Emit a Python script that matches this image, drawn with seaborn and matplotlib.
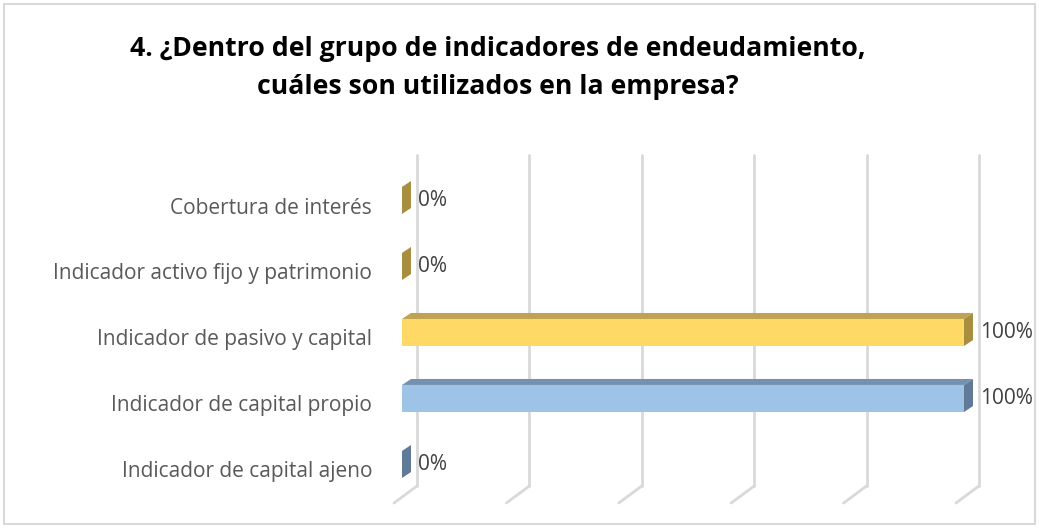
import matplotlib
matplotlib.use("Agg")
import matplotlib.pyplot as plt
import seaborn as sns
import numpy as np
import pandas as pd
from matplotlib.patches import Polygon, Rectangle
from matplotlib.lines import Line2D
from matplotlib.transforms import ScaledTranslation, IdentityTransform

# ---- data ----
categories = [
    "Cobertura de interés",
    "Indicador activo fijo y patrimonio",
    "Indicador de pasivo y capital",
    "Indicador de capital propio",
    "Indicador de capital ajeno",
]
values = [0, 0, 100, 100, 0]
value_labels = ["0%", "0%", "100%", "100%", "0%"]
grid_ticks = [0, 20, 40, 60, 80, 100]
title = "4. ¿Dentro del grupo de indicadores de endeudamiento,\ncuáles son utilizados en la empresa?"

front_colors = ["#FFD966", "#FFD966", "#FFD966", "#9DC3E6", "#9DC3E6"]
top_colors = ["#BFA350", "#BFA350", "#BFA350", "#7691B0", "#7691B0"]
side_colors = ["#A88F3F", "#A88F3F", "#A88F3F", "#5F7B98", "#5F7B98"]

sns.set_theme(style="white")
plt.rcParams["font.family"] = ["Open Sans", "DejaVu Sans"]

W, H, DPI = 1039, 529, 100
fig = plt.figure(figsize=(W / DPI, H / DPI), dpi=DPI)
# axes in pixel layout: x 402..964, y 167.5..497.5 (from top)
ax = fig.add_axes([402 / W, 1 - 497.5 / H, 562 / W, 330 / H])

df = pd.DataFrame({"cat": categories, "val": values})
sns.barplot(data=df, x="val", y="cat", hue="cat", palette=front_colors,
            legend=False, width=0.41, saturation=1, orient="h", ax=ax,
            edgecolor="none", linewidth=0, zorder=2)
ax.set_xlim(0, 100)
ax.set_ylim(4.5, -0.5)
ax.set_xlabel("")
ax.set_ylabel("")
ax.set_xticks([])
for s in ax.spines.values():
    s.set_visible(False)
ax.tick_params(axis="y", length=0, pad=21.6, labelsize=15, labelcolor="#595959")
for lab in ax.get_yticklabels():
    lab.set_transform(lab.get_transform() + ScaledTranslation(0, -5 / DPI, fig.dpi_scale_trans))

fig.canvas.draw()
ident = IdentityTransform()

def disp(x, y):
    return ax.transData.transform((x, y))

# gridlines (back wall) with floor segments
grid_col = "#D9D9D9"
top_px, bot_px, floor_dx, floor_dy = 155, 486, -23, 17
for t in grid_ticks:
    xd = disp(t, 0)[0] + 15
    ytop = H - top_px
    ybot = H - bot_px
    ax.add_line(Line2D([xd, xd], [ytop, ybot], transform=ident, color=grid_col,
                       lw=2, zorder=0.5, clip_on=False))
    ax.add_line(Line2D([xd, xd + floor_dx], [ybot, ybot - floor_dy], transform=ident,
                       color=grid_col, lw=2, zorder=0.5, clip_on=False))

# 3D faces
ddx, ddy = 9, 6
for p in list(ax.patches):
    x0, y0 = p.get_x(), p.get_y()
    w, h = p.get_width(), p.get_height()
    i = int(round(y0 + h / 2))
    (ax0, ay0) = disp(x0, y0 + h)       # bottom-left (display)
    (ax1, ay1) = disp(x0 + w, y0)       # top-right (display)
    top = Polygon([[ax0, ay1], [ax1, ay1], [ax1 + ddx, ay1 + ddy], [ax0 + ddx, ay1 + ddy]],
                  closed=True, transform=ident, facecolor=top_colors[i], edgecolor="none",
                  zorder=3, clip_on=False)
    side = Polygon([[ax1, ay0], [ax1, ay1], [ax1 + ddx, ay1 + ddy], [ax1 + ddx, ay0 + ddy]],
                   closed=True, transform=ident, facecolor=side_colors[i], edgecolor="none",
                   zorder=3, clip_on=False)
    ax.add_artist(top)
    ax.add_artist(side)
    ax.annotate(value_labels[i], xy=(x0 + w, y0 + h / 2), xytext=(16, 0),
                textcoords="offset pixels", ha="left", va="center", zorder=5,
                fontsize=15, color="#404040", annotation_clip=False)

fig.text(498 / W, 1 - 68 / H, title, ha="center", va="center", fontsize=19.2,
         fontweight="bold", color="#000000", linespacing=1.6)

fig.add_artist(Rectangle((4, 5), W - 8, H - 9, transform=ident, fill=False,
                         edgecolor="#D9D9D9", lw=1.5, zorder=10))

fig.savefig("out.png", dpi=DPI)
